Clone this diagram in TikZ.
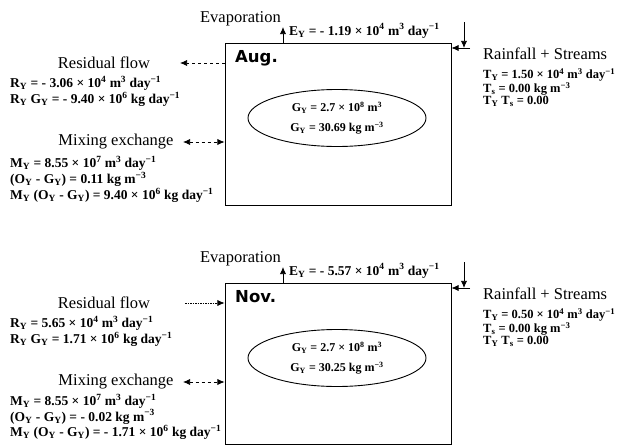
\documentclass[tikz,border=0pt]{standalone}
\usepackage{fontspec}
\setmainfont{Liberation Serif}
\newfontfamily\headfont{DejaVu Sans}
\usetikzlibrary{arrows.meta,positioning,shapes.geometric}
\newcommand{\subY}{\textsubscript{Y}}
\newcommand{\supx}[1]{\textsuperscript{#1}}

\begin{document}
\begin{tikzpicture}[x=1pt,y=-1pt,
panel/.style={draw,line width=0.9pt,minimum width=226pt,minimum height=162pt,inner sep=0pt},
pool/.style={draw,ellipse,line width=0.9pt,minimum width=178pt,minimum height=57pt,inner sep=0pt,align=center,font=\bfseries\fontsize{12}{20}\selectfont},
flowname/.style={inner sep=0pt,font=\fontsize{16.5}{18}\selectfont},
figures/.style={inner sep=0pt,align=left,font=\bfseries\fontsize{13.5}{16}\selectfont},
rainfig/.style={figures,font=\bfseries\fontsize{12.5}{12}\selectfont},
month/.style={inner sep=0pt,font=\headfont\bfseries\fontsize{16.5}{18}\selectfont},
arrow/.style={-{Latex[length=2.5mm,width=2.2mm]},line width=0.8pt},
twoway/.style={{Latex[length=2.5mm,width=2.2mm]}-{Latex[length=2.5mm,width=2.2mm]},line width=0.8pt,dashed}
]
\useasboundingbox (0,0) rectangle (625,445);

% August
\node[panel] (augbox) at (338,124) {};
\node[month,anchor=north west] (aug) at (235,50) {Aug.};
\node[pool] (augpool) at (337,118) {G\subY{} = 2.7 × 10\supx{8} m\supx{3}\\G\subY{} = 30.69 kg m\supx{−3}};

\coordinate (augevap) at (283,27);
\draw[arrow] (augbox.north -| augevap) -- (augevap);
\node[flowname,anchor=base east] (augevaptxt) at (281,22) {Evaporation};
\node[figures,anchor=base west] (augevapval) at (289,35) {E\subY{} = - 1.19 × 10\supx{4} m\supx{3} day\supx{−1}};

\coordinate (augraintop) at (464,22);
\coordinate (augrainend) at (464,48);
\draw[arrow] (augraintop) -- (augrainend);
\draw[line width=0.8pt] ([xshift=-5pt]augrainend) -- ([xshift=6pt]augrainend);
\draw[arrow] ([xshift=6pt]augrainend) -- (augrainend -| augbox.east);
\node[flowname,anchor=base west] (augrain) at (483,59) {Rainfall + Streams};
\node[rainfig,below right=9pt and 0pt of augrain.south west] (augrainval) {T\subY{} = 1.50 × 10\supx{4} m\supx{3} day\supx{−1}\\T\textsubscript{s} = 0.00 kg m\supx{−3}\\T\subY{} T\textsubscript{s} = 0.00};

\node[flowname] (augres) at (104,63) {Residual flow};
\coordinate (augresend) at (180,63);
\draw[arrow,dashed] (augbox.west |- augresend) -- (augresend);
\node[figures,anchor=north west] (augresval) at (10,76) {R\subY{} = - 3.06 × 10\supx{4} m\supx{3} day\supx{−1}\\R\subY{} G\subY{} = - 9.40 × 10\supx{6} kg day\supx{−1}};

\node[flowname] (augmix) at (116,142) {Mixing exchange};
\coordinate (augmixend) at (183,142);
\draw[twoway] (augmixend) -- (augbox.west |- augmixend);
\node[figures,anchor=north west] (augmixval) at (10,156) {M\subY{} = 8.55 × 10\supx{7} m\supx{3} day\supx{−1}\\(O\subY{} - G\subY{}) = 0.11 kg m\supx{−3}\\M\subY{} (O\subY{} - G\subY{}) = 9.40 × 10\supx{6} kg day\supx{−1}};

% November
\node[panel,minimum height=161pt] (novbox) at (338,364) {};
\node[month,anchor=north west] (nov) at (235,290) {Nov.};
\node[pool] (novpool) at (337,358) {G\subY{} = 2.7 × 10\supx{8} m\supx{3}\\G\subY{} = 30.25 kg m\supx{−3}};

\coordinate (novevap) at (283,267);
\draw[arrow] (novbox.north -| novevap) -- (novevap);
\node[flowname,anchor=base east] (novevaptxt) at (281,262) {Evaporation};
\node[figures,anchor=base west] (novevapval) at (289,275) {E\subY{} = - 5.57 × 10\supx{4} m\supx{3} day\supx{−1}};

\coordinate (novraintop) at (464,262);
\coordinate (novrainend) at (464,288);
\draw[arrow] (novraintop) -- (novrainend);
\draw[line width=0.8pt] ([xshift=-5pt]novrainend) -- ([xshift=6pt]novrainend);
\draw[arrow] ([xshift=6pt]novrainend) -- (novrainend -| novbox.east);
\node[flowname,anchor=base west] (novrain) at (483,299) {Rainfall + Streams};
\node[rainfig,below right=9pt and 0pt of novrain.south west] (novrainval) {T\subY{} = 0.50 × 10\supx{4} m\supx{3} day\supx{−1}\\T\textsubscript{s} = 0.00 kg m\supx{−3}\\T\subY{} T\textsubscript{s} = 0.00};

\node[flowname] (novres) at (104,303) {Residual flow};
\coordinate (novresstart) at (185,303);
\draw[arrow,dash pattern=on 1.5pt off 1pt] (novresstart) -- (novbox.west |- novresstart);
\node[figures,anchor=north west] (novresval) at (10,316) {R\subY{} = 5.65 × 10\supx{4} m\supx{3} day\supx{−1}\\R\subY{} G\subY{} = 1.71 × 10\supx{6} kg day\supx{−1}};

\node[flowname] (novmix) at (116,382) {Mixing exchange};
\coordinate (novmixend) at (183,382);
\draw[twoway] (novmixend) -- (novbox.west |- novmixend);
\node[figures,anchor=north west,font=\bfseries\fontsize{13.5}{15.5}\selectfont] (novmixval) at (10,394) {M\subY{} = 8.55 × 10\supx{7} m\supx{3} day\supx{−1}\\(O\subY{} - G\subY{}) = - 0.02 kg m\supx{−3}\\M\subY{} (O\subY{} - G\subY{}) = - 1.71 × 10\supx{6} kg day\supx{−1}};
\end{tikzpicture}
\end{document}
